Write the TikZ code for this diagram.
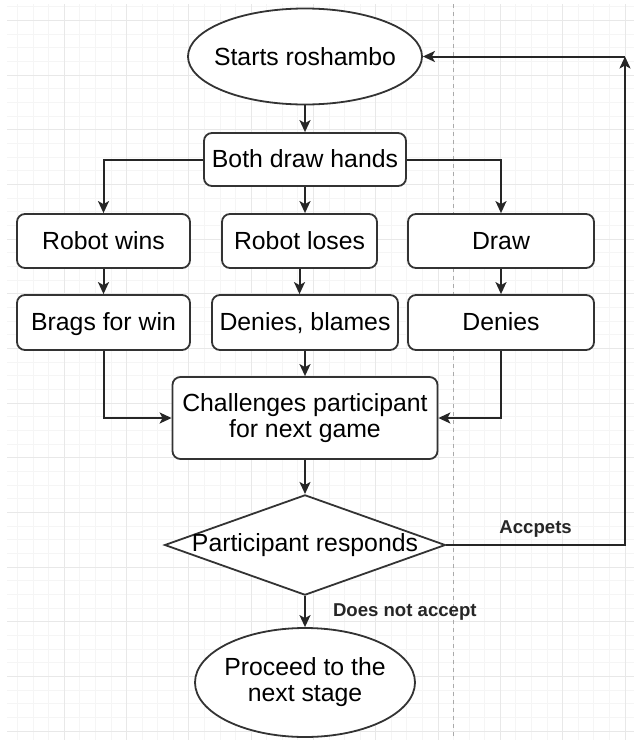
\documentclass[tikz,border=0pt]{standalone}
\usepackage{fontspec}
\setmainfont{Liberation Sans}
\usepackage{tikz}
\usetikzlibrary{calc, arrows.meta, shapes.geometric, positioning}
\tikzset{
    roundnode/.style = {draw=black!80, line width=0.9pt, rectangle, rounded corners=4pt, inner sep=0pt, 
      fill=white, node distance=0em, font=\fontsize{12.4}{13}\selectfont},
    onelinenode/.style = {roundnode, text height=8.9pt, text depth=0.8pt},
    ellipsenode/.style = {draw=black!80, line width=0.9pt, ellipse, inner xsep=-5pt, 
      fill=white, node distance=0em, font=\fontsize{12.4}{13}\selectfont},
    diamondnode/.style = {draw=black!80, line width=0.9pt, diamond, aspect=2.8, inner xsep=-2.5pt, inner ysep=0pt, 
      fill=white, node distance=0em, font=\fontsize{12.4}{13}\selectfont},
    textnode/.style  = {draw=none, fill=none, rectangle, inner sep=0em, font=\fontsize{9.3}{11}\selectfont\bfseries},
    connect/.style = {black!85, line width=1pt, -{Stealth[length=6pt, width=5.5pt, inset=1.5pt]}},
    every text node part/.style={align=center}
}
\definecolor{gridminor}{RGB}{245, 245, 245}
\definecolor{gridmajor}{RGB}{232, 232, 232}
\definecolor{sepline}{RGB}{170, 170, 170}

\begin{document}
\begin{tikzpicture}[x=0.5pt, y=-0.5pt]
    \useasboundingbox (0,0) rectangle (634,740);
    \begin{scope}
        \clip (7,4) rectangle (634,740);
        \foreach \k in {1,...,40} \draw[gridminor, line width=0.5pt] ({2+15.575*\k},4) -- ({2+15.575*\k},740);
        \foreach \j in {0,...,53} \draw[gridminor, line width=0.5pt] (7,{731.3-13.67*\j}) -- (634,{731.3-13.67*\j});
        \foreach \k in {4,8,...,40} \draw[gridmajor, line width=0.5pt] ({2+15.575*\k},4) -- ({2+15.575*\k},740);
        \foreach \j in {0,4,...,52} \draw[gridmajor, line width=0.5pt] (7,{731.3-13.67*\j}) -- (634,{731.3-13.67*\j});
    \end{scope}
    \draw[sepline, line width=0.5pt, dash pattern=on 2pt off 2pt] (453,4) -- (453,740);

    \node[ellipsenode, name=Start, minimum width=117pt, minimum height=48pt] at (305,56.5) {Starts roshambo};
    \node[onelinenode, name=Both, below of=Start, yshift=-51.5pt, minimum width=101pt, minimum height=26.5pt] {Both draw hands};

    \node[onelinenode, name=Wins, below of=Both, xshift=-100.75pt, yshift=-40.75pt, minimum width=86.5pt, minimum height=27pt] {Robot wins};
    \node[onelinenode, name=Loses, below of=Both, xshift=-2.75pt, yshift=-40.75pt, minimum width=77.5pt, minimum height=27pt] {Robot loses};
    \node[onelinenode, name=Draw, below of=Both, xshift=98pt, yshift=-40.75pt, minimum width=93pt, minimum height=27pt] {Draw};

    \node[onelinenode, name=Brags, below of=Wins, yshift=-40.75pt, minimum width=86.5pt, minimum height=27.5pt] {Brags for win};
    \node[onelinenode, name=Blames, below of=Loses, xshift=2.75pt, yshift=-40.75pt, minimum width=93pt, minimum height=27.5pt] {Denies, blames};
    \node[onelinenode, name=Denies, below of=Draw, yshift=-40.75pt, minimum width=93pt, minimum height=27.5pt] {Denies};

    \node[roundnode, name=Challenge, below of=Blames, yshift=-47.75pt, minimum width=132.5pt, minimum height=41pt] {Challenges participant\\for next game};
    \node[diamondnode, name=Respond, below of=Challenge, yshift=-63.5pt, minimum width=140pt, minimum height=50pt] {Participant responds};
    \node[ellipsenode, name=Proceed, below of=Respond, yshift=-68.75pt, minimum width=110pt, minimum height=54.5pt] {Proceed to the\\next stage};
    \coordinate (Loop) at (625,56.5);

    \draw[connect] (Start) -- (Both);
    \draw[connect] (Both) -| (Wins);
    \draw[connect] (Both.south) -- (Both.south |- Loses.north);
    \draw[connect] (Both) -| (Draw);
    \draw[connect] (Wins) -- (Brags);
    \draw[connect] (Loses.south) -- (Loses.south |- Blames.north);
    \draw[connect] (Draw) -- (Denies);
    \draw[connect] (Brags) |- (Challenge);
    \draw[connect] (Blames) -- (Challenge);
    \draw[connect] (Denies) |- (Challenge);
    \draw[connect] (Challenge) -- (Respond);
    \draw[connect] (Respond) -- node[textnode, name=NotAccept, right=13.5pt] {Does not accept} (Proceed);
    \draw[connect] (Respond) -| node[textnode, name=Accepts, pos=0.25, above=3.5pt] {Accpets} (Loop);
    \draw[connect] (Loop) -- (Start);
\end{tikzpicture}
\end{document}
